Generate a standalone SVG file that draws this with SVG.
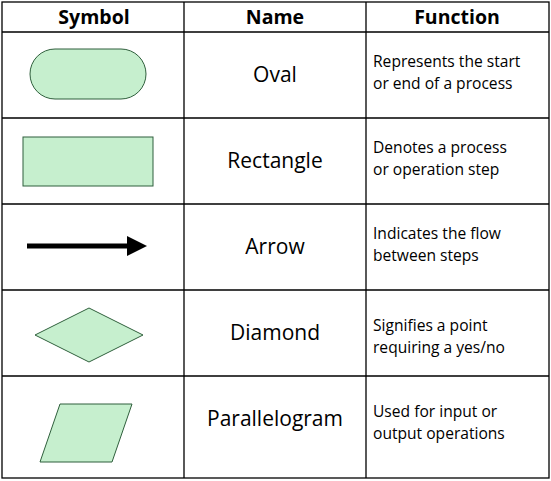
<svg xmlns="http://www.w3.org/2000/svg" width="551" height="481" viewBox="0 0 551 481">
<style>
.g{fill:none;stroke:#000;stroke-width:1.3}
.s{fill:#c6efce;stroke:#2f5f3c;stroke-width:1}
.h{font-family:"Open Sans","Liberation Sans",sans-serif;font-weight:bold;font-size:19.5px;text-anchor:middle}
.n{font-family:"Open Sans","Liberation Sans",sans-serif;font-size:21px;text-anchor:middle}
.f{font-family:"Open Sans","Liberation Sans",sans-serif;font-size:15.6px}
</style>
<rect width="551" height="481" fill="#fff"/>
<g id="grid">
<rect class="g" x="2" y="2" width="547" height="476"/>
<path class="g" d="M184 2V478M366 2V478M2 32H549M2 118H549M2 204H549M2 290H549M2 376H549"/>
</g>
<g id="header">
<text class="h" x="94" y="24">Symbol</text>
<text class="h" x="275" y="24">Name</text>
<text class="h" x="457" y="24">Function</text>
</g>
<g id="oval"><rect class="s" x="30" y="49" width="116" height="50" rx="25"/>
<text class="n" x="275" y="82">Oval</text>
<text class="f" x="373" y="67">Represents the start</text><text class="f" x="373" y="89">or end of a process</text></g>
<g id="rectangle"><rect class="s" x="23" y="137" width="130" height="49"/>
<text class="n" x="275" y="168">Rectangle</text>
<text class="f" x="373" y="153">Denotes a process</text><text class="f" x="373" y="175">or operation step</text></g>
<g id="connectors"><g id="arrow"><path d="M27 246H130" stroke="#000" stroke-width="5"/><polygon points="127,236 147,246 127,256" fill="#000"/></g></g>
<g id="arrowrow">
<text class="n" x="275" y="254">Arrow</text>
<text class="f" x="373" y="239">Indicates the flow</text><text class="f" x="373" y="261">between steps</text></g>
<g id="diamond"><polygon class="s" points="35,335 89,308 143,335 89,362"/>
<text class="n" x="275" y="340">Diamond</text>
<text class="f" x="373" y="331">Signifies a point</text><text class="f" x="373" y="353">requiring a yes/no</text></g>
<g id="parallelogram"><polygon class="s" points="60,404 132,404 112,462 40,462"/>
<text class="n" x="275" y="426">Parallelogram</text>
<text class="f" x="373" y="417">Used for input or</text><text class="f" x="373" y="439">output operations</text></g>
</svg>
